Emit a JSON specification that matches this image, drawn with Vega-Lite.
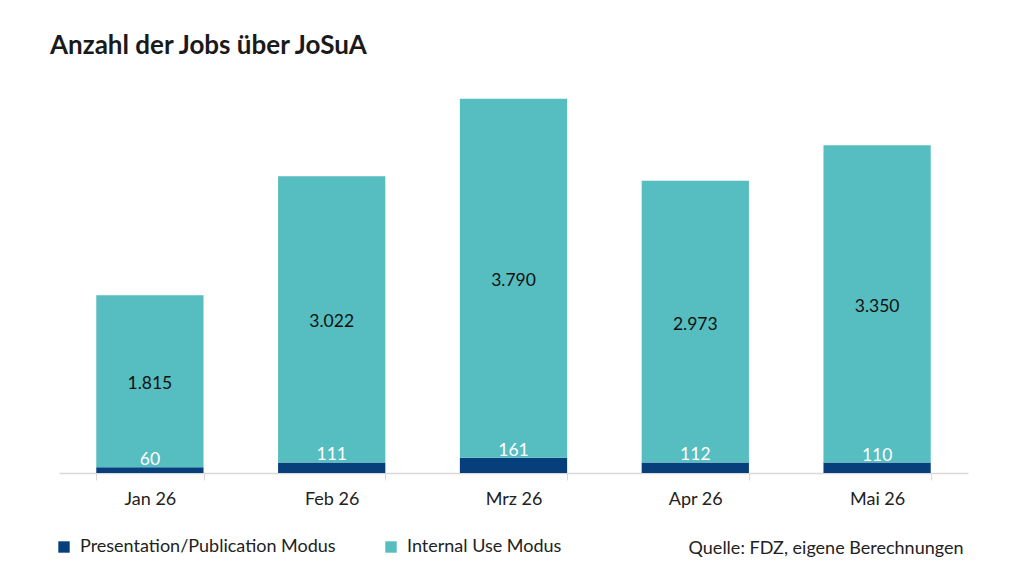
{
  "$schema": "https://vega.github.io/schema/vega-lite/v6.json",
  "autosize": "none",
  "width": 909,
  "height": 379,
  "padding": {"left": 59, "top": 94, "right": 56, "bottom": 112},
  "background": "white",
  "config": {
    "font": "Lato",
    "view": {"stroke": null},
    "locale": {"number": {"decimal": ",", "thousands": ".", "grouping": [3], "currency": ["", " €"]}}
  },
  "title": {
    "text": "Anzahl der Jobs über JoSuA",
    "anchor": "start",
    "frame": "group",
    "font": "Lato",
    "fontSize": 26,
    "fontWeight": "bold",
    "color": "#1a1a1a",
    "dx": -9,
    "offset": 35
  },
  "data": {
    "values": [
      {"month": "Jan 26", "modus": "Presentation/Publication Modus", "count": 60},
      {"month": "Jan 26", "modus": "Internal Use Modus", "count": 1815},
      {"month": "Feb 26", "modus": "Presentation/Publication Modus", "count": 111},
      {"month": "Feb 26", "modus": "Internal Use Modus", "count": 3022},
      {"month": "Mrz 26", "modus": "Presentation/Publication Modus", "count": 161},
      {"month": "Mrz 26", "modus": "Internal Use Modus", "count": 3790},
      {"month": "Apr 26", "modus": "Presentation/Publication Modus", "count": 112},
      {"month": "Apr 26", "modus": "Internal Use Modus", "count": 2973},
      {"month": "Mai 26", "modus": "Presentation/Publication Modus", "count": 110},
      {"month": "Mai 26", "modus": "Internal Use Modus", "count": 3350}
    ]
  },
  "encoding": {
    "x": {
      "field": "month",
      "type": "nominal",
      "sort": ["Jan 26", "Feb 26", "Mrz 26", "Apr 26", "Mai 26"],
      "scale": {"paddingInner": 0.41, "paddingOuter": 0.205},
      "axis": {
        "title": "Quelle: FDZ, eigene Berechnungen",
        "titleAnchor": "end",
        "titleAlign": "right",
        "titleX": 904,
        "titleFont": "Lato",
        "titleFontSize": 18,
        "titleFontWeight": "normal",
        "titleColor": "#222",
        "titlePadding": 31,
        "labelAngle": 0,
        "labelFont": "Lato",
        "labelFontSize": 18,
        "labelColor": "#222",
        "labelPadding": 10,
        "tickBand": "extent",
        "tickSize": 7,
        "tickColor": "#d9d9d9",
        "domainColor": "#d9d9d9",
        "domainWidth": 1.5,
        "grid": false
      }
    }
  },
  "layer": [
    {
      "mark": {"type": "bar"},
      "encoding": {
        "y": {"field": "count", "type": "quantitative", "stack": "zero", "scale": {"domain": [0, 4000], "nice": false}, "axis": null},
        "color": {
          "field": "modus",
          "type": "nominal",
          "scale": {"domain": ["Presentation/Publication Modus", "Internal Use Modus"], "range": ["#073f7c", "#56bdc0"]},
          "legend": {
            "title": null,
            "orient": "none",
            "direction": "horizontal",
            "legendX": -4,
            "legendY": 444,
            "symbolType": "square",
            "symbolSize": 130,
            "symbolStrokeWidth": 0,
            "labelFont": "Lato",
            "labelFontSize": 18,
            "labelColor": "#222",
            "labelOffset": 7,
            "columnPadding": 46,
            "labelLimit": 400
          }
        },
        "order": {"field": "modus", "sort": "descending"}
      }
    },
    {
      "transform": [
        {"stack": "count", "groupby": ["month"], "sort": [{"field": "modus", "order": "descending"}], "as": ["y0", "y1"]},
        {"filter": "datum.modus === 'Internal Use Modus'"},
        {"calculate": "(datum.y0 + datum.y1) / 2", "as": "mid"}
      ],
      "mark": {"type": "text", "font": "Lato", "fontSize": 17.5, "color": "#111", "baseline": "middle", "dy": 3},
      "encoding": {
        "y": {"field": "mid", "type": "quantitative"},
        "text": {"field": "count", "type": "quantitative", "format": ",d"}
      }
    },
    {
      "transform": [
        {"filter": "datum.modus === 'Presentation/Publication Modus'"}
      ],
      "mark": {"type": "text", "font": "Lato", "fontSize": 17.5, "color": "white", "baseline": "alphabetic", "dy": -2},
      "encoding": {
        "y": {"field": "count", "type": "quantitative"},
        "text": {"field": "count", "type": "quantitative", "format": ",d"}
      }
    }
  ]
}
